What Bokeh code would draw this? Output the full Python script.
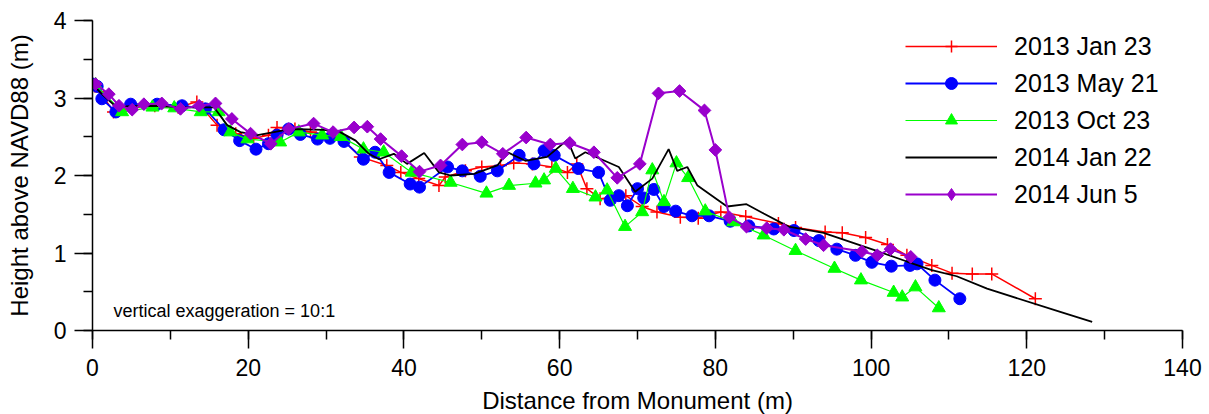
import math
from bokeh.plotting import figure
from bokeh.models import (Legend, LegendItem, Label, SingleIntervalTicker, Range1d)
from bokeh.embed import file_html
from bokeh.resources import INLINE

FONT = "Liberation Sans"

series_names = ["2013 Jan 23", "2013 May 21", "2013 Oct 23", "2014 Jan 22", "2014 Jun 5"]

jan13_x = [0, 1.0, 2.7, 5.2, 8.0, 11.0, 13.4, 16.0, 18.4, 20.7, 22.6, 23.7, 26.0, 28.0, 31.8, 34.4,
           37.8, 39.6, 41.9, 44.5, 45.3, 47.9, 50.0, 52.4, 54.1, 56.5, 59.0, 61.0, 62.2, 63.5, 65.2,
           68.5, 70.6, 72.5, 75.5, 77.8, 80.7, 83.9, 88.1, 90.3, 94.1, 96.3, 99.3, 102.1, 104.6,
           107.8, 110.4, 113.0, 115.5, 121.1]
jan13_y = [3.18, 3.08, 2.82, 2.88, 2.90, 2.88, 2.95, 2.65, 2.54, 2.48, 2.52, 2.62, 2.60, 2.56, 2.50, 2.24,
           2.13, 2.04, 1.96, 1.87, 1.98, 2.06, 2.11, 2.13, 2.16, 2.15, 2.11, 2.04, 2.15, 1.83, 1.70,
           1.74, 1.60, 1.53, 1.46, 1.45, 1.53, 1.47, 1.38, 1.33, 1.27, 1.26, 1.20, 1.11, 0.97,
           0.84, 0.74, 0.73, 0.73, 0.41]

may13_x = [0.0, 0.6, 1.2, 3.0, 4.9, 8.3, 11.5, 14.5, 16.9, 18.9, 21.0, 22.6, 23.7, 25.2, 26.7, 28.9,
           30.5, 32.3, 34.8, 36.3, 38.1, 40.8, 42.0, 45.6, 47.5, 49.8, 52.0, 54.8, 56.7, 58.0, 59.3,
           62.4, 65.0, 66.5, 67.6, 68.7, 70.0, 70.8, 72.1, 73.4, 74.9, 77.0, 79.2, 81.9, 84.3, 87.5,
           90.1, 93.3, 95.6, 98.0, 100.1, 102.6, 105.0, 105.9, 108.2, 111.4]
may13_y = [3.18, 3.15, 2.99, 2.82, 2.92, 2.92, 2.90, 2.86, 2.59, 2.45, 2.34, 2.41, 2.52, 2.60, 2.53, 2.47,
           2.48, 2.44, 2.21, 2.30, 2.04, 1.89, 1.85, 2.11, 2.06, 1.99, 2.06, 2.26, 2.15, 2.32, 2.26,
           2.09, 2.04, 1.68, 1.74, 1.61, 1.83, 1.71, 1.82, 1.60, 1.54, 1.48, 1.48, 1.41, 1.35, 1.31,
           1.29, 1.16, 1.05, 0.97, 0.88, 0.83, 0.84, 0.86, 0.65, 0.41]

oct13_x = [0.4, 3.8, 7.7, 10.5, 13.9, 16.2, 17.7, 19.9, 24.1, 26.5, 29.5, 31.9, 34.8, 37.4, 41.0,
           46.0, 50.6, 53.5, 56.9, 58.0, 59.5, 61.7, 64.6, 66.1, 68.4, 70.6, 71.9, 73.4, 75.0, 76.5,
           78.7, 82.3, 86.2, 90.3, 95.3, 98.7, 102.9, 104.0, 105.7, 108.7]
oct13_y = [3.17, 2.82, 2.88, 2.87, 2.82, 2.82, 2.56, 2.47, 2.43, 2.56, 2.52, 2.50, 2.34, 2.30, 2.04,
           1.91, 1.77, 1.87, 1.90, 1.94, 2.09, 1.83, 1.72, 1.81, 1.34, 1.53, 2.07, 1.66, 2.16, 1.97,
           1.54, 1.40, 1.23, 1.03, 0.80, 0.65, 0.49, 0.43, 0.56, 0.29]

jan14_x = [0, 1.2, 3.0, 8.0, 12.0, 15.6, 17.3, 19.0, 21.2, 23.3, 25.4, 29.7, 31.8, 33.8, 35.5, 36.8,
           38.7, 40.4, 42.6, 44.5, 46.0, 49.0, 52.0, 53.3, 55.6, 58.4, 61.0, 62.0, 63.3, 67.6, 69.7,
           71.9, 74.0, 75.1, 76.4, 77.7, 81.5, 84.0, 86.2, 89.4, 93.9, 101.2, 104.6, 107.8, 111.0,
           114.9, 124.3, 128.4]
jan14_y = [3.18, 3.05, 2.89, 2.90, 2.88, 2.88, 2.65, 2.56, 2.52, 2.56, 2.60, 2.59, 2.56, 2.45, 2.28, 2.21,
           2.28, 2.15, 2.29, 2.04, 2.00, 2.02, 2.13, 2.30, 2.19, 2.24, 2.46, 2.22, 2.30, 2.11, 1.79,
           1.96, 2.34, 2.06, 2.11, 1.87, 1.60, 1.63, 1.51, 1.34, 1.26, 1.01, 0.89, 0.78, 0.70,
           0.54, 0.24, 0.11]

jun14_x = [0.4, 2.1, 3.4, 5.1, 6.6, 8.9, 11.3, 13.7, 15.8, 17.9, 20.3, 22.9, 25.2, 28.4, 30.9, 33.6,
           35.3, 37.0, 39.7, 42.0, 44.7, 47.5, 50.0, 52.7, 55.7, 58.8, 61.3, 64.4, 67.4, 70.3, 72.7,
           75.4, 78.6, 80.0, 81.8, 84.0, 86.6, 88.8, 91.6, 93.9, 98.8, 100.8, 102.5, 105.1]
jun14_y = [3.18, 3.05, 2.90, 2.85, 2.92, 2.93, 2.86, 2.90, 2.93, 2.73, 2.54, 2.41, 2.60, 2.67, 2.56, 2.62,
           2.63, 2.47, 2.25, 2.05, 2.13, 2.40, 2.43, 2.28, 2.49, 2.40, 2.42, 2.30, 1.97, 2.15, 3.06,
           3.09, 2.84, 2.33, 1.46, 1.34, 1.32, 1.30, 1.18, 1.10, 1.02, 0.97, 1.05, 0.95]

x_label = "Distance from Monument (m)"
y_label = "Height above NAVD88 (m)"
note_text = "vertical exaggeration = 10:1"

p = figure(frame_width=1090, frame_height=310, output_backend="svg", toolbar_location=None,
           x_range=Range1d(0, 140), y_range=Range1d(0, 4),
           min_border_left=92, min_border_right=23, min_border_top=20, min_border_bottom=83)
p.outline_line_color = None
p.grid.visible = False
p.background_fill_color = "white"

for ax, interval in ((p.xaxis[0], 20), (p.yaxis[0], 1)):
    ax.ticker = SingleIntervalTicker(interval=interval, num_minor_ticks=2)
    ax.axis_line_width = 1.5
    ax.major_tick_line_width = 1.5
    ax.minor_tick_line_width = 1.5
    ax.major_tick_in = 0
    ax.major_tick_out = 18
    ax.minor_tick_in = 0
    ax.minor_tick_out = 9
    ax.major_label_text_font = FONT
    ax.major_label_text_font_size = "23px"
    ax.major_label_text_color = "black"
    ax.axis_label_text_font = FONT
    ax.axis_label_text_font_size = "24px"
    ax.axis_label_text_font_style = "normal"
    ax.axis_label_text_color = "black"

p.xaxis.axis_label = x_label
p.yaxis.axis_label = y_label
p.xaxis.major_label_standoff = 10
p.xaxis.axis_label_standoff = 8
p.yaxis.major_label_standoff = 8
p.yaxis.axis_label_standoff = 18

items = []
# 2013 Jan 23 (red, plus)
l1 = p.line(jan13_x, jan13_y, line_color="#FF0000", line_width=1.5)
s1 = p.scatter(jan13_x, jan13_y, marker="cross", size=13, line_color="#FF0000", line_width=1.5)
items.append(LegendItem(label=series_names[0], renderers=[l1, s1]))
# 2013 May 21 (blue, circle)
l2 = p.line(may13_x, may13_y, line_color="#0000FF", line_width=1.8)
s2 = p.scatter(may13_x, may13_y, marker="circle", size=12, fill_color="#0000FF", line_color="#0000FF")
items.append(LegendItem(label=series_names[1], renderers=[l2, s2]))
# 2013 Oct 23 (green, triangle)
l3 = p.line(oct13_x, oct13_y, line_color="#00FF00", line_width=1.2)
s3 = p.scatter(oct13_x, oct13_y, marker="triangle", size=13, fill_color="#00FF00", line_color="#00FF00")
items.append(LegendItem(label=series_names[2], renderers=[l3, s3]))
# 2014 Jan 22 (black line)
l4 = p.line(jan14_x, jan14_y, line_color="black", line_width=1.8)
items.append(LegendItem(label=series_names[3], renderers=[l4]))
# 2014 Jun 5 (purple, diamond)
l5 = p.line(jun14_x, jun14_y, line_color="#9900CC", line_width=2)
# small diamond used as the legend glyph; drawn under the plot markers of the same series
s5_leg = p.scatter(jun14_x, jun14_y, marker="diamond", size=11, fill_color="#9900CC", line_color="#9900CC")
s5 = p.scatter(jun14_x, jun14_y, marker="square", size=9, angle=math.pi / 4,
               fill_color="#9900CC", line_color="#9900CC")
items.append(LegendItem(label=series_names[4], renderers=[l5, s5_leg]))

legend = Legend(items=items, location=(813, 121), orientation="vertical",
                glyph_width=92, glyph_height=30, label_height=30, spacing=7,
                label_standoff=17, padding=0, margin=0,
                border_line_alpha=0, background_fill_alpha=0,
                label_text_font=FONT, label_text_font_size="25px", label_text_color="black")
p.add_layout(legend)

note = Label(x=21, y=20, x_units="screen", y_units="screen", text=note_text,
             text_font=FONT, text_font_size="18px", text_color="black",
             text_baseline="alphabetic", text_align="left")
p.add_layout(note)

open("out.html", "w").write(file_html(p, INLINE))
